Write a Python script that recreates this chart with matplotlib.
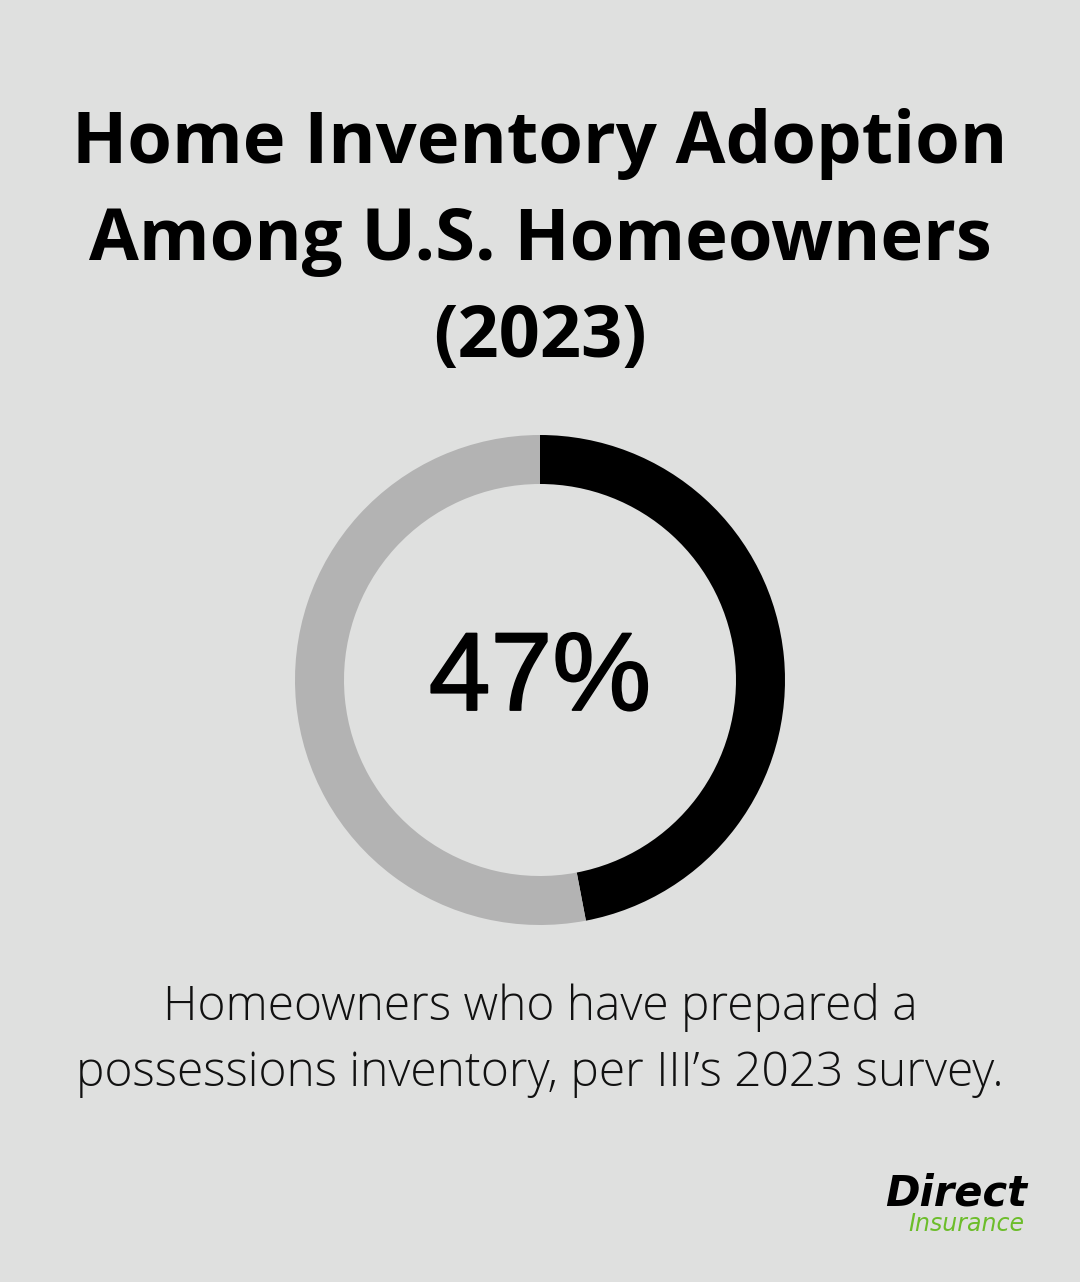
import matplotlib.pyplot as plt
import matplotlib.patheffects as pe

# data
share_labels = ["Prepared inventory", "No inventory"]
share_values = [47, 53]
share_colors = ["#000000", "#b3b3b3"]
title_lines = ["Home Inventory Adoption", "Among U.S. Homeowners", "(2023)"]
note_lines = ["Homeowners who have prepared a", "possessions inventory, per III\u2019s 2023 survey."]

W, H = 1080, 1282
bg = "#dfe0df"
fig = plt.figure(figsize=(W/100, H/100), dpi=100, facecolor=bg)

def fx(x): return x/W
def fy(y): return 1 - y/H

# title
for i, line in enumerate(title_lines):
    fig.text(fx(540), fy(144 + i*97), line, ha="center", va="center",
             fontsize=52, fontweight="bold", family="Open Sans", color="#000000")

# donut
cx, cy, r = 540, 680, 245
ax = fig.add_axes([fx(cx - r), fy(cy + r), 2*r/W, 2*r/H])
ax.set_facecolor(bg)
ax.pie(share_values, colors=share_colors, startangle=90, counterclock=False,
       radius=1, wedgeprops=dict(width=0.2, edgecolor="none"))
ax.set_xlim(-1, 1); ax.set_ylim(-1, 1)
ax.set_aspect("equal")
ax.axis("off")

# centre value, strokes a bit heavier than regular weight
big = fig.text(fx(540), fy(681), f"{share_values[0]}%", ha="center", va="center",
               fontsize=80, family="Liberation Sans", color="#000000")
big.set_path_effects([pe.withStroke(linewidth=1.3, foreground="#000000")])

# note
for i, line in enumerate(note_lines):
    fig.text(fx(540), fy(1007 + i*67), line, ha="center", va="center",
             fontsize=34.5, fontweight="light", family="Open Sans", color="#111111")

# logo
fig.text(fx(1027), fy(1193), "Direct", ha="right", va="center", fontsize=30,
         fontweight="heavy", style="italic", family="DejaVu Sans", color="#000000")
fig.text(fx(1024), fy(1224), "Insurance", ha="right", va="center", fontsize=17,
         style="italic", family="Liberation Sans Narrow", color="#6cbd2a")

fig.savefig("out.png", dpi=100, facecolor=bg)
